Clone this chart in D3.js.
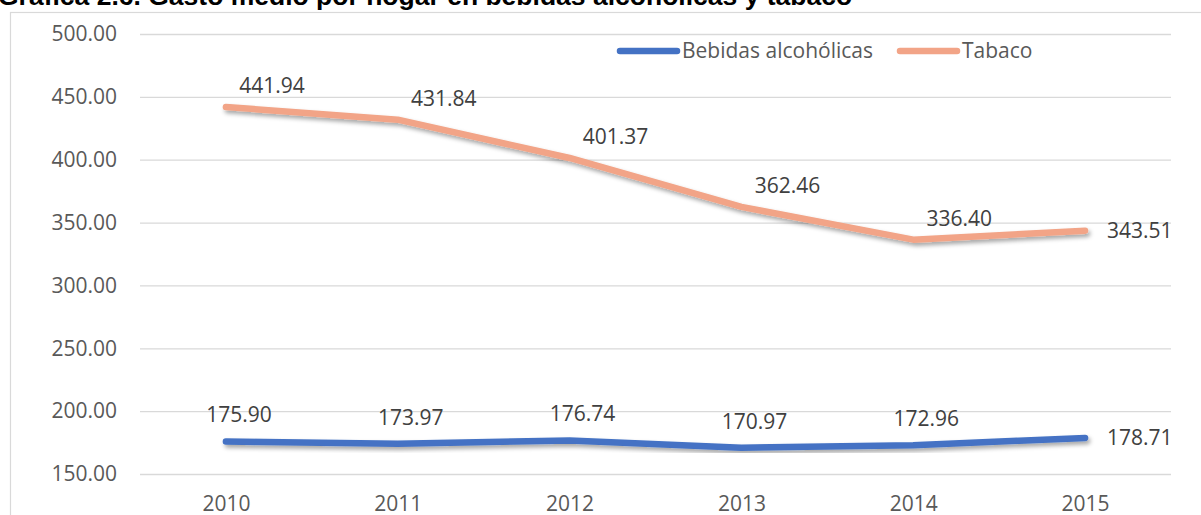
<!DOCTYPE html>
<html>
<head>
<meta charset="utf-8">
<script src="https://cdn.jsdelivr.net/npm/d3@7"></script>
<style>
  body { margin: 0; background: #fff; }
  svg { display: block; }
  text { font-family: "Open Sans", sans-serif; }
</style>
</head>
<body>
<div id="chart"></div>
<script>
// -------- Data --------
const years   = ['2010', '2011', '2012', '2013', '2014', '2015'];
const bebidas = [175.90, 173.97, 176.74, 170.97, 172.96, 178.71];
const tabaco  = [441.94, 431.84, 401.37, 362.46, 336.40, 343.51];
const yTicks  = [150, 200, 250, 300, 350, 400, 450, 500];
const seriesNames = ['Bebidas alcohólicas', 'Tabaco'];
const title = 'Gráfica 2.6. Gasto medio por hogar en bebidas alcohólicas y tabaco';

// -------- Dimensions --------
const width = 1201, height = 515;
const plot = { left: 140, right: 1171, top: 34, bottom: 474 };

const svg = d3.select('#chart').append('svg')
  .attr('width', width)
  .attr('height', height);

// soft shadow like the Excel line effect
const defs = svg.append('defs');
defs.append('filter')
    .attr('id', 'shadow')
    .attr('x', '-10%').attr('y', '-50%')
    .attr('width', '120%').attr('height', '200%')
  .append('feDropShadow')
    .attr('dx', 2).attr('dy', 3)
    .attr('stdDeviation', 2)
    .attr('flood-color', '#000')
    .attr('flood-opacity', 0.35);

// -------- Title (cut off at top in the source) --------
svg.append('text')
  .attr('x', -2)
  .attr('y', 5)
  .style('font-family', '"Liberation Sans", Arial, sans-serif')
  .attr('font-weight', 'bold')
  .attr('font-size', 26.5)
  .attr('fill', '#000')
  .text(title);

// chart frame
svg.append('rect')
  .attr('x', 10.5).attr('y', 12.5)
  .attr('width', 1210).attr('height', 520)
  .attr('fill', '#fff')
  .attr('stroke', '#d9d9d9')
  .attr('stroke-width', 1.2);

// -------- Scales --------
const x = d3.scalePoint()
  .domain(years)
  .range([plot.left, plot.right])
  .padding(0.5);

const y = d3.scaleLinear()
  .domain([150, 500])
  .range([plot.bottom, plot.top]);

// -------- Grid + Y axis --------
const yAxis = d3.axisLeft(y)
  .tickValues(yTicks)
  .tickSize(-(plot.right - plot.left))
  .tickPadding(23)
  .tickFormat(d3.format('.2f'));

svg.append('g')
  .attr('transform', `translate(${plot.left},0)`)
  .call(yAxis)
  .call(g => g.select('.domain').remove())
  .call(g => g.selectAll('.tick line')
    .attr('stroke', '#d9d9d9')
    .attr('stroke-width', 1.3))
  .call(g => g.selectAll('.tick text')
    .attr('fill', '#595959')
    .attr('font-size', 21)
    .style('font-family', '"Open Sans", sans-serif'));

// -------- X axis labels --------
const xAxis = d3.axisBottom(x).tickSize(0).tickPadding(0);
svg.append('g')
  .attr('transform', `translate(0,${plot.bottom + 22})`)
  .call(xAxis)
  .call(g => g.select('.domain').remove())
  .call(g => g.selectAll('.tick text')
    .attr('fill', '#595959')
    .attr('font-size', 21)
    .attr('dy', '0.71em')
    .style('font-family', '"Open Sans", sans-serif'));

// -------- Lines --------
const series = [
  { name: seriesNames[0], values: bebidas, color: '#4472c4', dx: 13, dy: -19 },
  { name: seriesNames[1], values: tabaco,  color: '#f2a487', dx: 46, dy: -14 }
];

const line = d3.line()
  .x((d, i) => x(years[i]))
  .y(d => y(d));

svg.selectAll('path.series')
  .data(series)
  .join('path')
    .attr('class', 'series')
    .attr('d', d => line(d.values))
    .attr('fill', 'none')
    .attr('stroke', d => d.color)
    .attr('stroke-width', 6.5)
    .attr('stroke-linecap', 'round')
    .attr('stroke-linejoin', 'round')
    .attr('filter', 'url(#shadow)');

// -------- Data labels --------
const last = years.length - 1;
series.forEach(s => {
  svg.append('g')
    .selectAll('text')
    .data(s.values)
    .join('text')
      .attr('x', (d, i) => i === last ? x(years[i]) + 22 : x(years[i]) + s.dx)
      .attr('y', (d, i) => i === last ? y(d) : y(d) + s.dy)
      .attr('dy', (d, i) => i === last ? '0.35em' : 0)
      .attr('text-anchor', (d, i) => i === last ? 'start' : 'middle')
      .attr('font-size', 21)
      .attr('fill', '#404040')
      .text(d => d3.format('.2f')(d));
});

// -------- Legend --------
const legendPos = [620, 900];
const legend = svg.append('g')
  .selectAll('g')
  .data(series)
  .join('g')
    .attr('transform', (d, i) => `translate(${legendPos[i]},51)`);

legend.append('line')
  .attr('x1', 0).attr('x2', 57)
  .attr('stroke', d => d.color)
  .attr('stroke-width', 6.5)
  .attr('stroke-linecap', 'round');

legend.append('text')
  .attr('x', 62)
  .attr('dy', '0.35em')
  .attr('font-size', 21)
  .attr('fill', '#595959')
  .text(d => d.name);
</script>
</body>
</html>
